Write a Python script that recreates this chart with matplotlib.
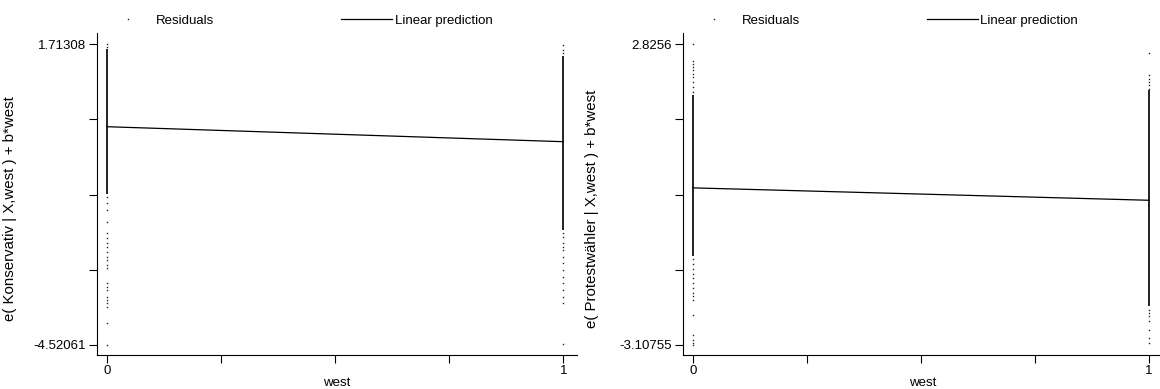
import numpy as np
import matplotlib
matplotlib.use("Agg")
import matplotlib.pyplot as plt
from matplotlib.lines import Line2D

plt.rcParams['font.family'] = ['Liberation Sans', 'DejaVu Sans']
plt.rcParams['font.size'] = 9.5

# ---- data ----
x_ticks = [0, 0.25, 0.5, 0.75, 1]
x_ticklabels = ['0', '', '', '', '1']

# left: Konservativ
kons_ymin, kons_ymax = -4.52061, 1.71308
kons_fit = [0.003, -0.308]            # linear prediction at west=0, west=1
kons_dense0 = (-1.40, 1.62)           # solid band of residuals at west=0
kons_dense1 = (-2.14, 1.46)           # solid band of residuals at west=1
kons_pts0 = [1.71308, 1.66, -1.449, -1.586, -1.725, -1.968, -2.209, -2.313,
             -2.416, -2.487, -2.591, -2.694, -2.763, -2.867, -2.935, -3.246,
             -3.317, -3.385, -3.525, -3.593, -3.661, -3.732, -4.076, -4.52061]
kons_pts1 = [1.70, 1.595, 1.526, -2.209, -2.279, -2.416, -2.487, -2.555,
             -2.694, -2.831, -2.970, -3.109, -3.246, -3.385, -3.525, -3.661,
             -4.506]

# right: Protestwaehler
prot_ymin, prot_ymax = -3.10755, 2.8256
prot_fit = [-0.010, -0.255]
prot_dense0 = (-1.357, 1.815)
prot_dense1 = (-2.348, 1.914)
prot_pts0 = [2.8256, 2.496, 2.443, 2.378, 2.310, 2.245, 2.179, 2.080, 1.981,
             1.882, -1.423, -1.522, -1.621, -1.720, -1.785, -1.884, -1.984,
             -2.083, -2.150, -2.215, -2.527, -2.909, -3.022, -3.074, -3.10755]
prot_pts1 = [2.661, 2.211, 2.146, 2.080, 2.013, 1.947, -2.414, -2.479, -2.546,
             -2.646, -2.810, -2.975, -3.074]

W, H = 1160, 389
fig = plt.figure(figsize=(W / 100, H / 100), dpi=100)


def panel(left_px, ylab_px, ylabel, ymin, ymax, fit, dense0, dense1, pts0, pts1):
    # axes box in pixels: spine top 33, bottom 355, width 480
    ax = fig.add_axes([left_px / W, 1 - 355 / H, 480 / W, 322 / H])
    span = ymax - ymin
    ax.set_ylim(ymin - span * 10.3 / 300.4, ymax + span * 11.3 / 300.4)
    ax.set_xlim(-10.5 / 459, 1 + 13.5 / 459)

    ax.vlines([0], dense0[0], dense0[1], color='#111111', lw=1.3)
    ax.vlines([1], dense1[0], dense1[1], color='#111111', lw=1.3)
    ax.plot(np.zeros(len(pts0)), pts0, ls='none', marker='s', ms=1.0, mew=0, color='#222222')
    ax.plot(np.ones(len(pts1)), pts1, ls='none', marker='s', ms=1.0, mew=0, color='#222222')
    ax.plot([0, 1], fit, color='black', lw=0.9)

    ax.set_yticks(np.linspace(ymin, ymax, 5))
    ax.set_yticklabels(['%g' % ymin, '', '', '', '%g' % ymax])
    ax.set_xticks(x_ticks)
    ax.set_xticklabels(x_ticklabels)
    ax.tick_params(direction='out', length=6, width=0.8, pad=1.5, color='black')
    for s in ['top', 'right']:
        ax.spines[s].set_visible(False)
    for s in ['left', 'bottom']:
        ax.spines[s].set_linewidth(0.8)
        ax.spines[s].set_color('black')
    ax.set_xlabel('west', labelpad=0)
    ax.set_ylabel(ylabel, fontsize=10.8)
    ax.yaxis.set_label_coords(-(left_px - ylab_px) / 480, 0.455)

    handles = [Line2D([], [], ls='none', marker='s', ms=1.0, mew=0, color='#222222'),
               Line2D([], [], color='black', lw=0.9)]
    ax.legend(handles, ['Residuals', 'Linear prediction'], loc='lower left',
              bbox_to_anchor=(0, 1), ncol=2, frameon=False, borderpad=0,
              borderaxespad=0.45, handlelength=3.86, handletextpad=0.2,
              columnspacing=9.6)
    return ax


panel(96.7, 17, 'e( Konservativ | X,west ) + b*west',
      kons_ymin, kons_ymax, kons_fit, kons_dense0, kons_dense1, kons_pts0, kons_pts1)
panel(682.5, 599, 'e( Protestwähler | X,west ) + b*west',
      prot_ymin, prot_ymax, prot_fit, prot_dense0, prot_dense1, prot_pts0, prot_pts1)

fig.savefig('out.png', dpi=100, facecolor='white')
